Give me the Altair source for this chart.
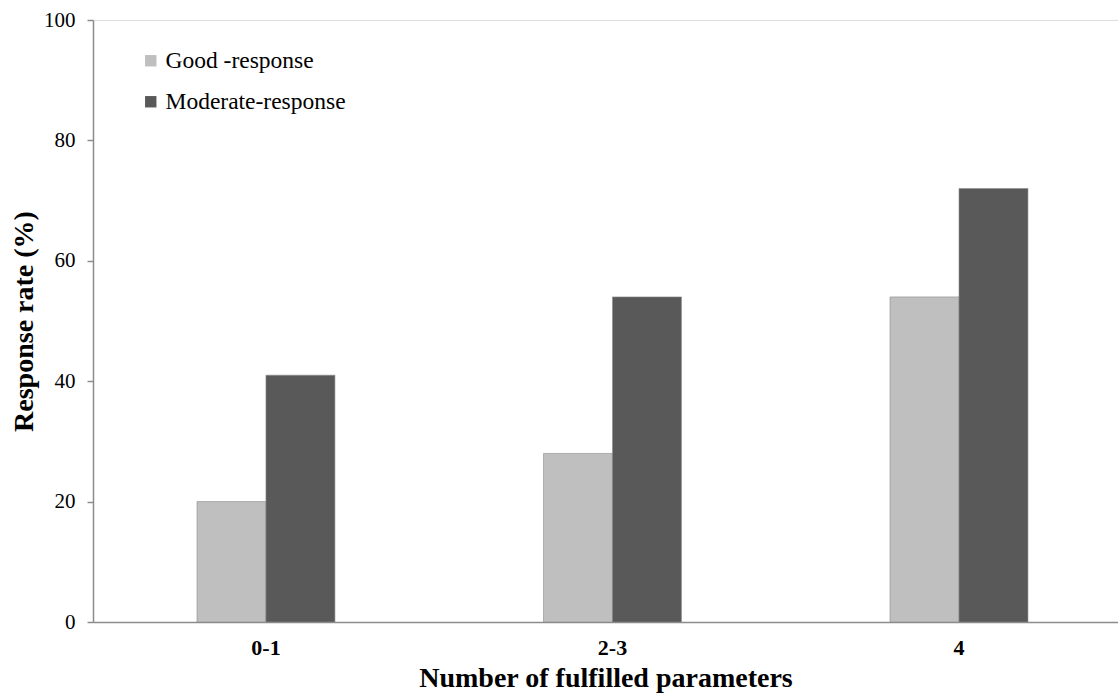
import altair as alt
import pandas as pd

categories = ["0-1", "2-3", "4"]
good = [20, 28, 54]
moderate = [41, 54, 72]
series = ["Good -response", "Moderate-response"]

rows = []
for c, g, m in zip(categories, good, moderate):
    rows.append({"cat": c, "series": series[0], "value": g})
    rows.append({"cat": c, "series": series[1], "value": m})
df = pd.DataFrame(rows)

font = "Liberation Serif"

chart = alt.Chart(df).mark_bar(stroke="#8a8a8a", strokeWidth=0.6).encode(
    x=alt.X("cat:N", sort=categories,
            scale=alt.Scale(paddingInner=0.602, paddingOuter=0.28, align=0.536),
            axis=alt.Axis(title="Number of fulfilled parameters", labelAngle=0,
                          labelFont=font, labelFontSize=22, labelFontWeight="bold",
                          labelColor="black", labelPadding=15, ticks=False,
                          domainColor="#8c8c8c", domainWidth=1.5,
                          titleFont=font, titleFontSize=28, titleFontWeight="bold",
                          titleColor="black", titlePadding=6)),
    xOffset=alt.XOffset("series:N", sort=series),
    y=alt.Y("value:Q", scale=alt.Scale(domain=[0, 100], nice=False),
            axis=alt.Axis(title="Response rate (%)", values=[0, 20, 40, 60, 80, 100],
                          grid=False, tickSize=6, tickColor="#8c8c8c", tickWidth=1.5,
                          domainColor="#8c8c8c", domainWidth=1.5,
                          labelFont=font, labelFontSize=21, labelColor="black",
                          labelPadding=12,
                          titleFont=font, titleFontSize=28, titleFontWeight="bold",
                          titleColor="black", titlePadding=5)),
    color=alt.Color("series:N", sort=series,
                    scale=alt.Scale(domain=series, range=["#bfbfbf", "#595959"]),
                    legend=alt.Legend(title=None, orient="none", legendX=46, legendY=29,
                                      symbolType="square", symbolSize=130,
                                      symbolStrokeWidth=0, labelLimit=0,
                                      labelFont=font, labelFontSize=23.5, labelColor="black",
                                      rowPadding=16, labelOffset=3)),
).properties(
    width=1025, height=602,
    autosize=alt.AutoSizeParams(type="none"),
    padding={"left": 93, "top": 20, "right": 0, "bottom": 78},
).configure_view(stroke=None).configure(background="white")

chart.save("out.html", embed_options={"renderer": "svg", "actions": False})
